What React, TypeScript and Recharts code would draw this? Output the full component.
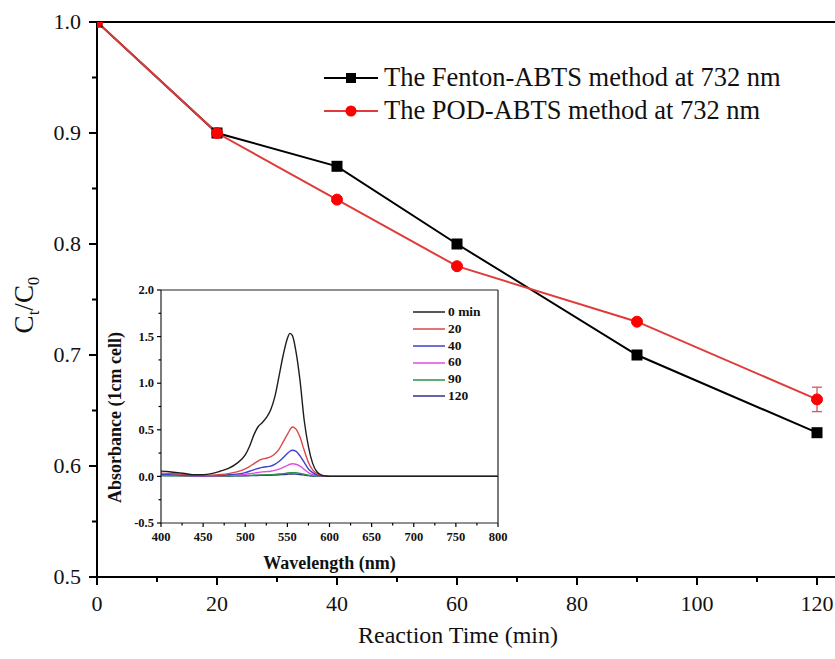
import React from 'react';
import { LineChart, Line, XAxis, YAxis, ErrorBar, ReferenceLine, Legend } from 'recharts';

// main chart: relative concentration vs reaction time
const reactionTime = [0, 20, 40, 60, 90, 120];
const fentonAbts = [1.0, 0.9, 0.87, 0.8, 0.7, 0.63];
const podAbts = [1.0, 0.9, 0.84, 0.78, 0.73, 0.66];
const podError = [0, 0, 0, 0, 0, 0.011];
const mainXTicks = [0, 10, 20, 30, 40, 50, 60, 70, 80, 90, 100, 110, 120];
const mainYTicks = [0.5, 0.55, 0.6, 0.65, 0.7, 0.75, 0.8, 0.85, 0.9, 0.95, 1.0];

// inset: absorbance spectra
const wavelength = [400, 410, 420, 430, 440, 450, 460, 470, 480, 490, 500, 505, 510, 515, 520, 525, 530, 535, 540, 545, 550, 553, 556, 560, 565, 570, 575, 580, 585, 590, 595, 600, 620, 650, 700, 750, 800];
const abs0 = [0.057, 0.05, 0.04, 0.028, 0.017, 0.018, 0.03, 0.055, 0.085, 0.14, 0.23, 0.32, 0.44, 0.53, 0.575, 0.63, 0.71, 0.85, 1.07, 1.3, 1.48, 1.535, 1.51, 1.35, 1.03, 0.6, 0.32, 0.14, 0.05, 0.015, 0.004, 0, 0, 0, 0, 0, 0];
const abs20 = [0.035, 0.032, 0.028, 0.02, 0.012, 0.01, 0.013, 0.02, 0.03, 0.048, 0.08, 0.105, 0.135, 0.165, 0.185, 0.195, 0.21, 0.24, 0.29, 0.37, 0.45, 0.5, 0.53, 0.51, 0.42, 0.28, 0.15, 0.07, 0.03, 0.01, 0.003, 0, 0, 0, 0, 0, 0];
const abs40 = [0.02, 0.018, 0.015, 0.012, 0.008, 0.007, 0.008, 0.012, 0.017, 0.025, 0.04, 0.055, 0.07, 0.085, 0.097, 0.103, 0.11, 0.13, 0.16, 0.2, 0.245, 0.27, 0.28, 0.27, 0.22, 0.15, 0.08, 0.04, 0.015, 0.005, 0.001, 0, 0, 0, 0, 0, 0];
const abs60 = [0.015, 0.013, 0.011, 0.009, 0.006, 0.005, 0.006, 0.008, 0.011, 0.015, 0.022, 0.028, 0.035, 0.042, 0.048, 0.051, 0.055, 0.064, 0.078, 0.097, 0.118, 0.13, 0.135, 0.13, 0.11, 0.075, 0.04, 0.02, 0.008, 0.002, 0, 0, 0, 0, 0, 0, 0];
const abs90 = [0.008, 0.007, 0.006, 0.005, 0.004, 0.003, 0.003, 0.004, 0.005, 0.006, 0.008, 0.01, 0.012, 0.014, 0.016, 0.017, 0.018, 0.021, 0.025, 0.03, 0.036, 0.039, 0.04, 0.039, 0.033, 0.023, 0.013, 0.006, 0.002, 0, 0, 0, 0, 0, 0, 0, 0];
const abs120 = [0.01, 0.009, 0.008, 0.007, 0.006, 0.005, 0.005, 0.005, 0.005, 0.006, 0.007, 0.008, 0.009, 0.01, 0.011, 0.012, 0.013, 0.015, 0.017, 0.02, 0.023, 0.025, 0.025, 0.024, 0.02, 0.014, 0.008, 0.004, 0.001, 0, 0, 0, 0, 0, 0, 0, 0];
const insetXTicks = [400, 425, 450, 475, 500, 525, 550, 575, 600, 625, 650, 675, 700, 725, 750, 775, 800];
const insetYTicks = [-0.5, -0.25, 0, 0.25, 0.5, 0.75, 1.0, 1.25, 1.5, 1.75, 2.0];

const spectra = [
  { key: 'a0', name: '0 min', values: abs0, color: '#1e1e1e' },
  { key: 'a20', name: '20', values: abs20, color: '#d9484a' },
  { key: 'a40', name: '40', values: abs40, color: '#3f3fd0' },
  { key: 'a60', name: '60', values: abs60, color: '#e04ee0' },
  { key: 'a90', name: '90', values: abs90, color: '#2a9148' },
  { key: 'a120', name: '120', values: abs120, color: '#33338a' },
];

const mainData = reactionTime.map((t, i) => ({ t, fenton: fentonAbts[i], pod: podAbts[i], err: podError[i] }));
const insetData = wavelength.map((w, i) => {
  const row: Record<string, number> = { w };
  spectra.forEach(s => { row[s.key] = s.values[i]; });
  return row;
});

const SERIF = '"Liberation Serif", "Times New Roman", serif';

type TickOpts = { major: number; minor: number; fontSize: number; bold?: boolean; gap: number; width: number; isMajor: (v: number) => boolean; fmt: (v: number) => string };

const makeXTick = (o: TickOpts) => (props: any) => {
  const { x, y, payload } = props;
  const m = o.isMajor(payload.value);
  return (
    <g>
      <line x1={x} x2={x} y1={y} y2={y + (m ? o.major : o.minor)} stroke="#000" strokeWidth={o.width} />
      {m && (
        <text x={x} y={y + o.gap} textAnchor="middle" fontFamily={SERIF} fontSize={o.fontSize} fontWeight={o.bold ? 'bold' : 'normal'} fill="#111">
          {o.fmt(payload.value)}
        </text>
      )}
    </g>
  );
};

const makeYTick = (o: TickOpts) => (props: any) => {
  const { x, y, payload } = props;
  const m = o.isMajor(payload.value);
  return (
    <g>
      <line x1={x} x2={x - (m ? o.major : o.minor)} y1={y} y2={y} stroke="#000" strokeWidth={o.width} />
      {m && (
        <text x={x - o.gap} y={y + o.fontSize * 0.33} textAnchor="end" fontFamily={SERIF} fontSize={o.fontSize} fontWeight={o.bold ? 'bold' : 'normal'} fill="#111">
          {o.fmt(payload.value)}
        </text>
      )}
    </g>
  );
};

const mainXTick = makeXTick({ major: 8, minor: 5, fontSize: 22, gap: 34, width: 2, isMajor: v => v % 20 === 0, fmt: v => String(v) });
const mainYTick = makeYTick({ major: 8, minor: 5, fontSize: 22, gap: 16, width: 2, isMajor: v => Math.round(v * 100) % 10 === 0, fmt: v => v.toFixed(1) });
const insetXTick = makeXTick({ major: 4, minor: 2.5, fontSize: 12.5, bold: true, gap: 18, width: 1.2, isMajor: v => v % 50 === 0, fmt: v => String(v) });
const insetYTick = makeYTick({ major: 4, minor: 2.5, fontSize: 12.5, bold: true, gap: 7, width: 1.2, isMajor: v => Math.round(v * 100) % 50 === 0, fmt: v => v.toFixed(1) });

const SquareDot = (props: any) => {
  const { cx, cy } = props;
  if (cx == null || cy == null) return <g />;
  return <rect x={cx - 5.5} y={cy - 5.5} width={11} height={11} fill="#000" />;
};

const CtLabel = () => (
  <text transform="translate(33,305) rotate(-90)" textAnchor="middle" fontFamily={SERIF} fontSize={27} fill="#111">
    C<tspan fontSize={17} dy={6}>t</tspan>
    <tspan dy={-6}>/C</tspan>
    <tspan fontSize={17} dy={6}>0</tspan>
  </text>
);

const MainLegend = () => (
  <div style={{ fontFamily: SERIF, fontSize: 26.5, color: '#111', lineHeight: '33px', whiteSpace: 'nowrap' }}>
    <div style={{ display: 'flex', alignItems: 'center' }}>
      <svg width={56} height={20} style={{ marginRight: 6 }}>
        <line x1={2} x2={56} y1={10} y2={10} stroke="#000" strokeWidth={2} />
        <rect x={24} y={5} width={10} height={10} fill="#000" />
      </svg>
      The Fenton-ABTS method at 732 nm
    </div>
    <div style={{ display: 'flex', alignItems: 'center' }}>
      <svg width={56} height={20} style={{ marginRight: 6 }}>
        <line x1={2} x2={56} y1={10} y2={10} stroke="#e03a3a" strokeWidth={2} />
        <circle cx={29} cy={10} r={5.5} fill="#ff0000" />
      </svg>
      The POD-ABTS method at 732 nm
    </div>
  </div>
);

const InsetLegend = () => (
  <div style={{ fontFamily: SERIF, fontSize: 13.5, fontWeight: 'bold', color: '#111', lineHeight: '16.8px' }}>
    {spectra.map(s => (
      <div key={s.key} style={{ display: 'flex', alignItems: 'center' }}>
        <svg width={32} height={10} style={{ marginRight: 3 }}>
          <line x1={0} x2={32} y1={5} y2={5} stroke={s.color} strokeWidth={1.5} />
        </svg>
        {s.name}
      </div>
    ))}
  </div>
);

export default function App() {
  return (
    <div style={{ position: 'absolute', left: 0, top: 0, width: 835, height: 659, background: '#fff', overflow: 'hidden' }}>
      <LineChart width={835} height={659} data={mainData} margin={{ top: 22, right: 0, bottom: 0, left: 0 }}>
        <XAxis
          dataKey="t"
          type="number"
          domain={[0, 123]}
          allowDataOverflow
          ticks={mainXTicks}
          interval={0}
          tick={mainXTick}
          tickLine={false}
          tickSize={0}
          tickMargin={0}
          height={82}
          axisLine={{ stroke: '#000', strokeWidth: 2 }}
          label={{ value: 'Reaction Time (min)', position: 'insideBottom', offset: 16, dx: -8, fontFamily: SERIF, fontSize: 24, fill: '#111' }}
        />
        <YAxis
          type="number"
          domain={[0.5, 1.0]}
          allowDataOverflow
          ticks={mainYTicks}
          interval={0}
          tick={mainYTick}
          tickLine={false}
          tickSize={0}
          tickMargin={0}
          width={97}
          axisLine={{ stroke: '#000', strokeWidth: 2 }}
          label={CtLabel}
        />
        <ReferenceLine y={1.0} stroke="#000" strokeWidth={2} />
        <Legend layout="vertical" align="center" verticalAlign="middle" content={MainLegend} wrapperStyle={{ left: 322, top: 61, width: 510 }} />
        <Line type="linear" dataKey="fenton" stroke="#000" strokeWidth={2} dot={SquareDot} activeDot={false} isAnimationActive={false} />
        <Line type="linear" dataKey="pod" stroke="#e03a3a" strokeWidth={2} dot={{ r: 5.5, fill: '#ff0000', stroke: '#ff0000', strokeWidth: 1 }} activeDot={false} isAnimationActive={false}>
          <ErrorBar dataKey="err" width={5} stroke="#d05a5a" strokeWidth={1.3} direction="y" isAnimationActive={false} />
        </Line>
      </LineChart>

      <div style={{ position: 'absolute', left: 100, top: 280 }}>
        <LineChart width={410} height={300} data={insetData} margin={{ top: 10, right: 12, bottom: 0, left: 0 }}>
          <XAxis
            dataKey="w"
            type="number"
            domain={[400, 800]}
            ticks={insetXTicks}
            interval={0}
            tick={insetXTick}
            tickLine={false}
            tickSize={0}
            tickMargin={0}
            height={57}
            axisLine={{ stroke: '#222', strokeWidth: 1.2 }}
            label={{ value: 'Wavelength (nm)', position: 'insideBottom', offset: 11, fontFamily: SERIF, fontSize: 18, fontWeight: 'bold', fill: '#111' }}
          />
          <YAxis
            type="number"
            domain={[-0.5, 2.0]}
            ticks={insetYTicks}
            interval={0}
            tick={insetYTick}
            tickLine={false}
            tickSize={0}
            tickMargin={0}
            width={61}
            axisLine={{ stroke: '#222', strokeWidth: 1.2 }}
            label={{ value: 'Absorbance (1cm cell)', angle: -90, position: 'insideLeft', offset: 15, dy: 11, fontFamily: SERIF, fontSize: 18, fontWeight: 'bold', fill: '#111', style: { textAnchor: 'middle' } }}
          />
          <ReferenceLine y={2.0} stroke="#222" strokeWidth={1.2} />
          <ReferenceLine x={800} stroke="#222" strokeWidth={1.2} />
          <Legend layout="vertical" align="center" verticalAlign="middle" content={InsetLegend} wrapperStyle={{ left: 313, top: 24, width: 90 }} />
          {spectra.slice().reverse().map(s => (
            <Line key={s.key} type="monotone" dataKey={s.key} stroke={s.color} strokeWidth={1.4} dot={false} activeDot={false} isAnimationActive={false} />
          ))}
        </LineChart>
      </div>
    </div>
  );
}
